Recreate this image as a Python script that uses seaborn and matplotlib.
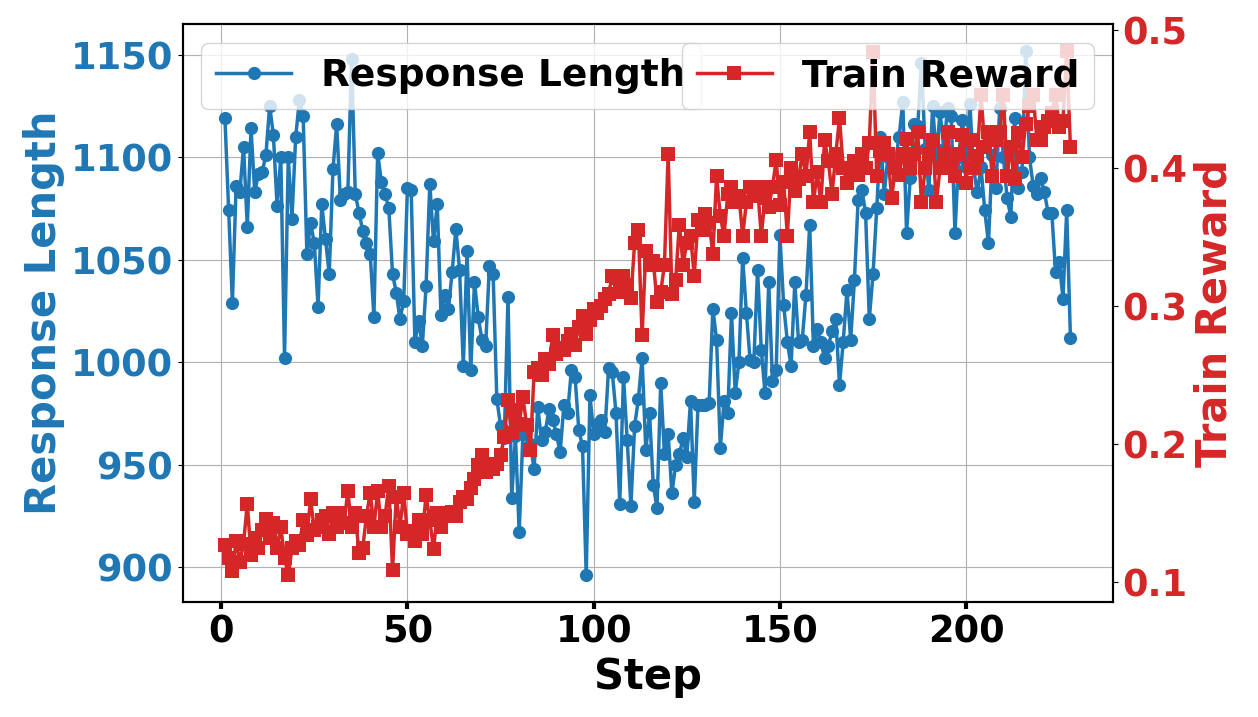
import pandas as pd
import seaborn as sns
import matplotlib.pyplot as plt

# values
steps = list(range(1, 229))

response_length = [
    1119, 1074, 1029, 1086, 1083, 1105, 1066, 1114, 1083, 1092,
    1093, 1101, 1125, 1111, 1076, 1100, 1002, 1100, 1070, 1110,
    1128, 1120, 1053, 1068, 1058, 1027, 1077, 1060, 1043, 1094,
    1116, 1079, 1082, 1083, 1148, 1082, 1073, 1064, 1058, 1053,
    1022, 1102, 1088, 1082, 1075, 1043, 1034, 1021, 1030, 1085,
    1084, 1010, 1020, 1008, 1037, 1087, 1059, 1077, 1023, 1033,
    1026, 1044, 1065, 1045, 998, 1054, 996, 1039, 1022, 1011,
    1008, 1047, 1043, 982, 969, 963, 1032, 934, 964, 917,
    965, 970, 960, 948, 978, 962, 966, 977, 972, 965,
    956, 979, 975, 996, 993, 967, 959, 896, 984, 965,
    970, 972, 966, 997, 995, 975, 931, 993, 962, 930,
    969, 982, 1002, 957, 975, 940, 929, 990, 955, 965,
    936, 950, 955, 963, 954, 981, 932, 979, 979, 979,
    980, 1026, 1011, 958, 981, 975, 1024, 985, 1000, 1051,
    1024, 1001, 1000, 1045, 1006, 985, 1039, 991, 996, 1062,
    1028, 1010, 998, 1039, 1010, 1011, 1033, 1067, 1008, 1016,
    1010, 1002, 1008, 1015, 1021, 989, 1010, 1035, 1011, 1040,
    1079, 1084, 1073, 1021, 1043, 1075, 1110, 1082, 1100, 1095,
    1098, 1110, 1127, 1063, 1090, 1116, 1115, 1146, 1104, 1084,
    1125, 1100, 1122, 1104, 1124, 1120, 1063, 1100, 1118, 1095,
    1126, 1094, 1083, 1095, 1074, 1058, 1101, 1085, 1124, 1100,
    1080, 1071, 1119, 1085, 1093, 1152, 1100, 1086, 1082, 1090,
    1083, 1073, 1073, 1044, 1049, 1031, 1074, 1012,
]

train_reward = [
    0.127, 0.118, 0.108, 0.130, 0.115, 0.128, 0.157, 0.120, 0.132, 0.125,
    0.138, 0.146, 0.132, 0.143, 0.125, 0.140, 0.118, 0.105, 0.125, 0.130,
    0.127, 0.145, 0.134, 0.160, 0.138, 0.140, 0.145, 0.148, 0.135, 0.150,
    0.140, 0.150, 0.143, 0.166, 0.140, 0.150, 0.121, 0.125, 0.148, 0.165,
    0.140, 0.166, 0.140, 0.148, 0.170, 0.109, 0.162, 0.140, 0.165, 0.135,
    0.137, 0.130, 0.145, 0.135, 0.163, 0.145, 0.124, 0.150, 0.140, 0.148,
    0.150, 0.151, 0.148, 0.158, 0.162, 0.160, 0.168, 0.175, 0.185, 0.192,
    0.180, 0.186, 0.182, 0.186, 0.192, 0.205, 0.232, 0.208, 0.225, 0.215,
    0.234, 0.214, 0.196, 0.252, 0.255, 0.250, 0.262, 0.258, 0.279, 0.265,
    0.270, 0.268, 0.275, 0.280, 0.272, 0.285, 0.293, 0.280, 0.290, 0.298,
    0.295, 0.300, 0.305, 0.309, 0.322, 0.320, 0.310, 0.322, 0.315, 0.306,
    0.346, 0.355, 0.279, 0.340, 0.330, 0.333, 0.303, 0.310, 0.330, 0.410,
    0.309, 0.319, 0.359, 0.330, 0.346, 0.351, 0.322, 0.362, 0.355, 0.367,
    0.360, 0.338, 0.394, 0.365, 0.351, 0.381, 0.386, 0.375, 0.380, 0.351,
    0.375, 0.386, 0.380, 0.386, 0.351, 0.378, 0.372, 0.386, 0.406, 0.373,
    0.390, 0.351, 0.400, 0.383, 0.392, 0.410, 0.394, 0.426, 0.375, 0.397,
    0.375, 0.420, 0.405, 0.381, 0.410, 0.436, 0.400, 0.389, 0.398, 0.405,
    0.395, 0.410, 0.400, 0.418, 0.484, 0.394, 0.412, 0.418, 0.410, 0.378,
    0.400, 0.395, 0.410, 0.421, 0.400, 0.410, 0.426, 0.375, 0.400, 0.410,
    0.420, 0.375, 0.400, 0.410, 0.426, 0.400, 0.394, 0.410, 0.424, 0.389,
    0.420, 0.400, 0.409, 0.453, 0.415, 0.426, 0.394, 0.420, 0.426, 0.453,
    0.394, 0.415, 0.392, 0.425, 0.408, 0.432, 0.445, 0.453, 0.420, 0.420,
    0.430, 0.434, 0.440, 0.453, 0.430, 0.434, 0.485, 0.415,
]

df = pd.DataFrame({"step": steps, "length": response_length, "reward": train_reward})

plt.rcParams["font.family"] = ["DejaVu Sans"]
plt.rcParams["font.weight"] = "bold"

blue = "#1f77b4"
red = "#d62728"

fig, ax1 = plt.subplots(figsize=(12.58, 7.17), dpi=100)
fig.subplots_adjust(left=0.1452, right=0.8845, top=0.9661, bottom=0.1608)

sns.lineplot(data=df, x="step", y="length", ax=ax1, color=blue, marker="o",
             markersize=9.5, linewidth=2.5, markeredgewidth=0,
             label="Response Length", legend=False)
ax1.grid(True)

ax2 = ax1.twinx()
sns.lineplot(data=df, x="step", y="reward", ax=ax2, color=red, marker="s",
             markersize=9.5, linewidth=2.5, markeredgewidth=0,
             label="Train Reward", legend=False)
ax2.grid(False)

ax1.set_xlabel("Step", fontsize=30, fontweight="bold")
ax1.set_ylabel("Response Length", fontsize=30, fontweight="bold", color=blue)
ax2.set_ylabel("Train Reward", fontsize=30, fontweight="bold", color=red)

ax1.tick_params(axis="x", labelsize=26.5, width=3, length=5)
ax1.tick_params(axis="y", labelsize=26.5, labelcolor=blue)
ax2.tick_params(axis="y", labelsize=26.5, labelcolor=red)

for ax in (ax1, ax2):
    for sp in ax.spines.values():
        sp.set_linewidth(1.5)

ax1.legend(loc="upper left", prop={"weight": "bold", "size": 27})
ax2.legend(loc="upper right", prop={"weight": "bold", "size": 27})

plt.savefig("out.png", dpi=100)
